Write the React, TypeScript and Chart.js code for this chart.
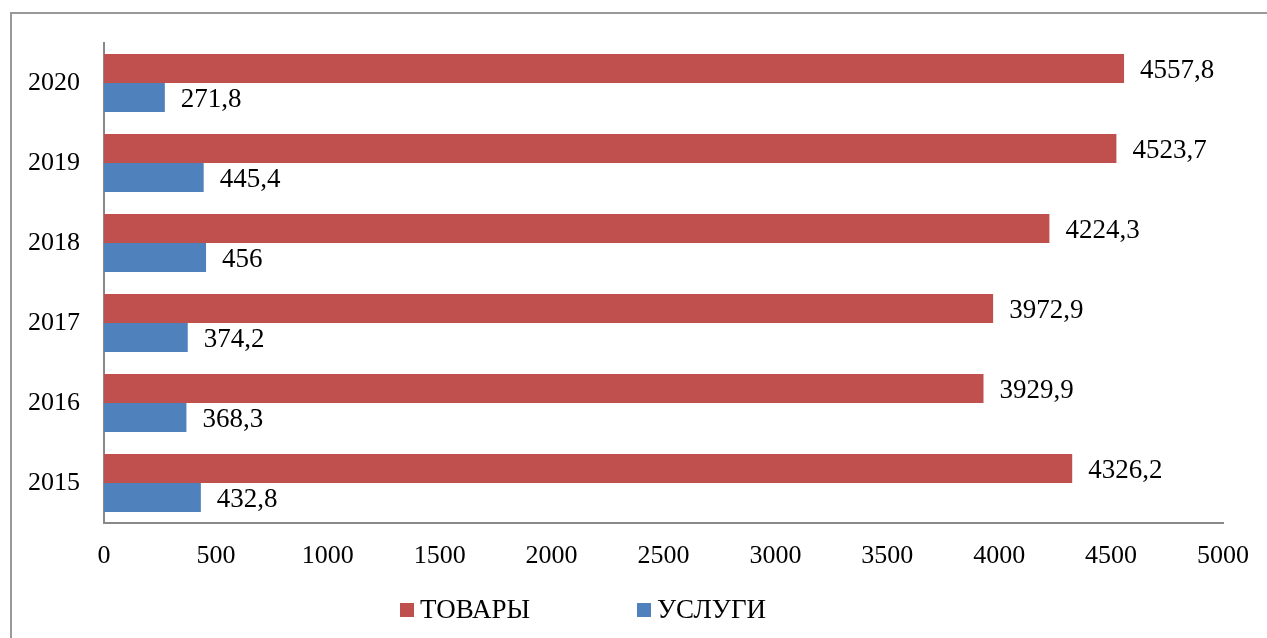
import React, { useEffect, useRef } from "react";
import { Chart, registerables } from "chart.js";

Chart.register(...registerables);

const categories = ["2020", "2019", "2018", "2017", "2016", "2015"];
const goods = [4557.8, 4523.7, 4224.3, 3972.9, 3929.9, 4326.2];
const services = [271.8, 445.4, 456, 374.2, 368.3, 432.8];
const seriesNames = ["ТОВАРЫ", "УСЛУГИ"];
const seriesColors = ["#C0504D", "#4F81BD"];

const FONT = "'Liberation Serif', 'Times New Roman', serif";
const fmt = (v: number) => String(v).replace(".", ",");

const valueLabels = {
  id: "valueLabels",
  afterDatasetsDraw(chart: any) {
    const ctx = chart.ctx;
    ctx.save();
    ctx.font = `27px ${FONT}`;
    ctx.fillStyle = "#000";
    ctx.textAlign = "left";
    ctx.textBaseline = "middle";
    chart.data.datasets.forEach((ds: any, i: number) => {
      const meta = chart.getDatasetMeta(i);
      meta.data.forEach((bar: any, j: number) => {
        ctx.fillText(fmt(ds.data[j]), bar.x + 16, bar.y + 2);
      });
    });
    ctx.restore();
  },
};

const customLegend = {
  id: "customLegend",
  afterDraw(chart: any) {
    const ctx = chart.ctx;
    const xs = [400, 637];
    const y = 610;
    ctx.save();
    ctx.font = `27px ${FONT}`;
    ctx.textBaseline = "middle";
    ctx.textAlign = "left";
    chart.data.datasets.forEach((ds: any, i: number) => {
      ctx.fillStyle = ds.backgroundColor;
      ctx.fillRect(xs[i], y - 7, 14, 14);
      ctx.fillStyle = "#000";
      ctx.fillText(ds.label, xs[i] + 20, y + 1);
    });
    ctx.restore();
  },
};

export default function App() {
  const ref = useRef<HTMLCanvasElement>(null);
  useEffect(() => {
    if (!ref.current) return;
    const chart = new Chart(ref.current, {
      type: "bar",
      data: {
        labels: categories,
        datasets: [
          { label: seriesNames[0], data: goods, backgroundColor: seriesColors[0], barPercentage: 1, categoryPercentage: 0.725 },
          { label: seriesNames[1], data: services, backgroundColor: seriesColors[1], barPercentage: 1, categoryPercentage: 0.725 },
        ],
      },
      options: {
        indexAxis: "y",
        animation: false,
        responsive: true,
        maintainAspectRatio: false,
        layout: { padding: { top: 43, right: 42, left: 0, bottom: 55 } },
        plugins: { legend: { display: false }, tooltip: { enabled: false } },
        scales: {
          x: {
            min: 0,
            max: 5000,
            ticks: {
              stepSize: 500,
              color: "#000",
              font: { family: FONT, size: 26 },
              padding: 18,
              maxRotation: 0,
              callback: (v: any) => String(v),
            },
            grid: { display: false, drawTicks: false },
            border: { display: true, color: "#898989", width: 2 },
            afterFit: (s: any) => { s.height = 60; },
          },
          y: {
            ticks: { color: "#000", font: { family: FONT, size: 26 }, padding: 24 },
            grid: { display: false, drawTicks: false },
            border: { display: true, color: "#898989", width: 2 },
            afterFit: (s: any) => { s.width = 104; },
          },
        },
      },
      plugins: [valueLabels, customLegend],
    });
    return () => chart.destroy();
  }, []);
  return (
    <div style={{ position: "absolute", left: 0, top: 0, width: 1267, height: 638, background: "#fff", overflow: "hidden" }}>
      <div style={{ position: "absolute", left: 10, top: 12, width: 1257, height: 626, borderTop: "2px solid #999", borderLeft: "2px solid #999", boxSizing: "border-box" }} />
      <div style={{ position: "absolute", left: 0, top: 0, width: 1267, height: 638 }}>
        <canvas ref={ref} />
      </div>
    </div>
  );
}
